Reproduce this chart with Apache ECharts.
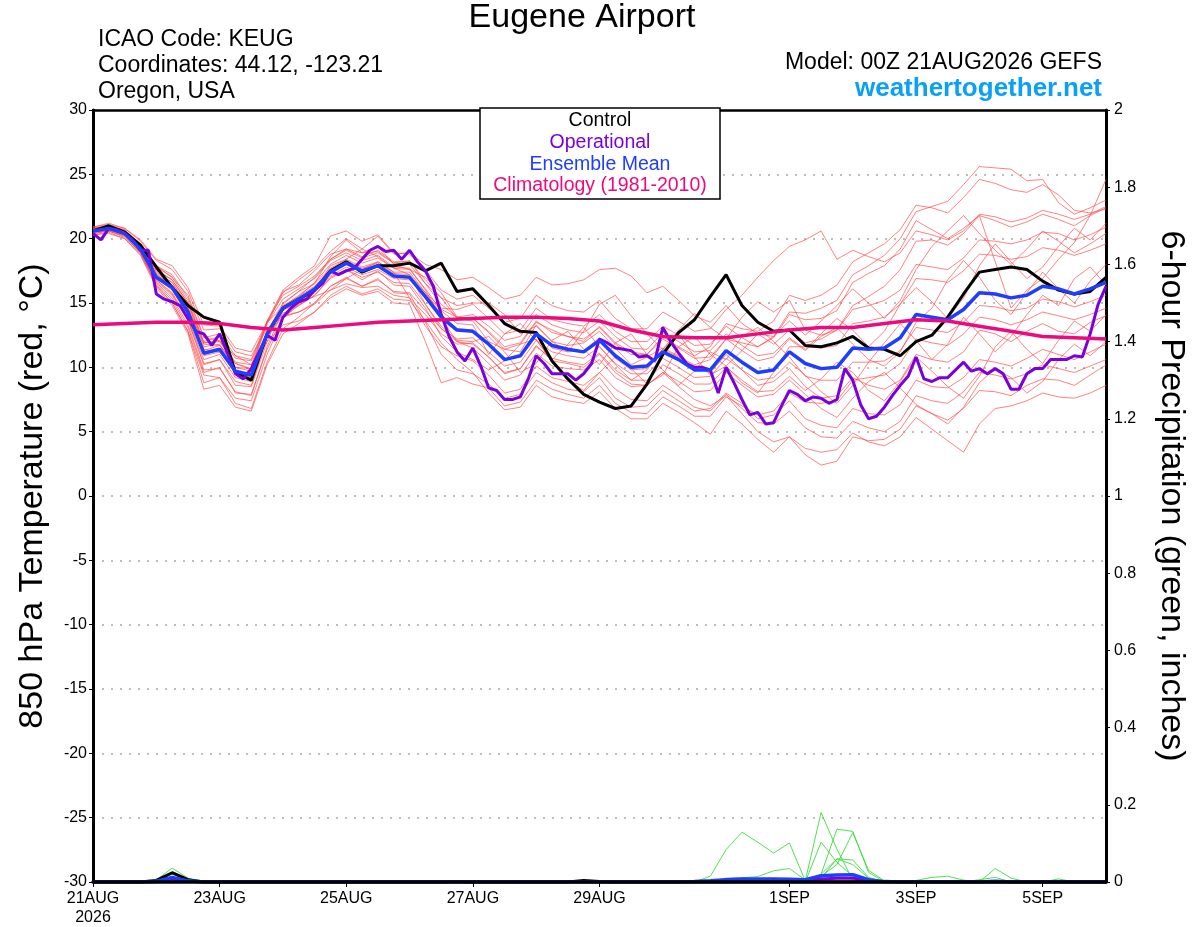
<!DOCTYPE html>
<html>
<head>
<meta charset="utf-8">
<title>Eugene Airport</title>
<script src="https://cdn.jsdelivr.net/npm/echarts@6.0.0/dist/echarts.min.js"></script>
<style>
  html, body { margin: 0; padding: 0; background: #fff; }
  #chart { width: 1200px; height: 927px; }
</style>
</head>
<body>
<div id="chart"></div>
<script>
// hours since 00Z 21AUG2026 where the date labels sit
var dateTickHours = [0, 48, 96, 144, 192, 264, 312, 360];
var dateTickLabels = ['21AUG\n2026', '23AUG', '25AUG', '27AUG', '29AUG', '1SEP', '3SEP', '5SEP'];

// 850 hPa temperature, 6-hourly (65 values) unless noted
var control = [
  20.6, 21.0, 20.5, 19.5, 17.8, 16.2, 14.8, 13.9, 13.5, 9.6,
  9.0, 12.6, 14.6, 15.3, 16.0, 17.5, 18.2, 17.4, 17.9, 17.9,
  18.1, 17.5, 18.1, 15.9, 16.1, 14.8, 13.4, 12.8, 12.7, 10.5,
  9.1, 7.9, 7.3, 6.8, 7.0, 8.7, 11.0, 12.7, 13.7, 15.5,
  17.2, 14.8, 13.5, 12.8, 12.9, 11.7, 11.6, 11.9, 12.4, 11.5,
  11.4, 10.9, 12.0, 12.5, 13.9, 15.7, 17.4, 17.6, 17.8, 17.6,
  16.7, 16.0, 15.7, 15.9, 17.0
];
var ensMean = [
  20.6, 20.8, 20.4, 19.2, 17.0, 16.2, 14.3, 11.1, 11.4, 9.7,
  9.4, 12.6, 14.6, 15.3, 16.1, 17.4, 18.1, 17.5, 17.9, 17.1,
  17.0, 15.5, 13.9, 12.9, 12.8, 11.8, 10.6, 10.9, 12.6, 11.7,
  11.4, 11.2, 12.1, 10.9, 10.0, 10.1, 11.2, 10.6, 9.8, 9.8,
  11.3, 10.4, 9.6, 9.8, 11.2, 10.3, 9.9, 10.0, 11.5, 11.4,
  11.5, 12.3, 14.1, 13.9, 13.7, 14.5, 15.8, 15.7, 15.4, 15.6,
  16.3, 16.1, 15.7, 16.1, 16.6
];
// operational run is 3-hourly (129 values)
var operational = [
  20.4, 19.9, 20.8, 20.7, 20.4, 19.9, 19.1, 19.1, 15.7, 15.3,
  15.1, 14.8, 13.8, 12.8, 12.6, 11.7, 12.6, 11.1, 9.5, 9.1,
  9.9, 11.2, 12.5, 12.1, 13.9, 14.6, 15.1, 15.3, 16.0, 16.5,
  17.5, 17.2, 17.5, 17.7, 18.4, 19.1, 19.4, 19.0, 19.1, 18.4,
  19.1, 18.2, 17.5, 16.3, 14.1, 12.4, 11.2, 10.5, 11.5, 10.1,
  8.4, 8.2, 7.5, 7.5, 7.7, 9.1, 10.9, 10.3, 9.5, 9.5,
  9.5, 9.0, 9.5, 10.3, 12.2, 11.9, 11.5, 11.4, 11.3, 10.8,
  10.9, 10.5, 13.1, 12.0, 11.1, 10.3, 10.0, 10.0, 9.8, 8.0,
  10.0, 8.8, 7.5, 6.3, 6.5, 5.6, 5.7, 7.0, 8.2, 7.9,
  7.4, 7.7, 7.6, 7.2, 7.5, 9.9, 9.0, 7.1, 6.0, 6.2,
  6.9, 7.8, 8.6, 9.3, 10.8, 9.1, 8.9, 9.2, 9.2, 9.8,
  10.4, 9.7, 9.9, 9.5, 9.9, 9.5, 8.3, 8.3, 9.5, 9.9,
  9.9, 10.6, 10.6, 10.6, 10.9, 10.8, 12.6, 14.9, 16.3
];
// climatology is 12-hourly (33 values)
var climatology = [
  13.3, 13.4, 13.5, 13.5, 13.4, 13.1, 12.9, 13.1, 13.3, 13.5,
  13.6, 13.7, 13.8, 13.9, 13.9, 13.8, 13.6, 12.9, 12.4, 12.3,
  12.3, 12.6, 12.9, 13.1, 13.1, 13.4, 13.7, 13.6, 13.2, 12.8,
  12.4, 12.3, 12.2
];

// ensemble members
var mem01 = [20.8,20.9,20.7,19.5,17.9, 17.0,15.6,12.4,12.0,10.9, 10.2,13.5,15.9,16.4,17.5, 18.8,19.2,18.9,19.0,18.1, 18.3,16.5,15.4,13.8,13.6, 12.0,11.4,11.2,13.3,12.0, 11.7,11.9,12.8,11.5,10.2, 10.8,11.5,10.9,9.9,9.6, 11.0,9.8,8.6,8.9,9.9, 8.5,7.6,7.8,9.2,8.6, 8.3,9.0,11.0,10.6,10.4, 11.2,12.9,12.6,12.0,12.8, 13.4,12.8,12.6,13.5,14.0];
var mem02 = [20.4,20.6,20.1,18.9,16.5, 15.2,13.1,9.6,10.0,8.0, 7.9,11.4,13.9,14.8,15.6, 17.0,17.6,16.8,17.5,16.4, 16.3,14.6,12.4,11.2,10.6, 9.8,10.5,11.8,12.2,10.4, 9.0,8.2,9.6,10.8,9.9, 8.7,9.4,11.6,12.4,11.0, 10.1,11.3,12.6,11.8,12.9, 11.9,12.2,12.9,14.8,15.5, 16.3,17.6,19.8,19.9,19.5, 20.4,21.8,21.4,20.9,21.3, 21.9,21.5,21.0,21.8,22.4];
var mem03 = [20.7,21.0,20.6,19.6,17.6, 16.8,15.0,11.9,12.0,10.3, 9.9,13.4,15.8,16.8,17.7, 19.0,20.0,19.2,20.2,18.8, 18.9,18.0,17.6,16.8,17.0, 16.2,15.3,15.6,17.0,16.4, 16.5,16.8,17.6,17.7,17.1, 15.8,16.3,15.2,14.0,13.5, 14.8,13.4,12.6,12.4,13.6, 12.5,13.6,14.8,16.1,15.0, 13.8,15.2,17.6,19.4,20.6, 21.8,20.4,19.1,18.0,19.2, 20.6,19.8,18.9,19.6,20.4];
var mem04 = [20.3,20.5,20.0,18.8,16.4, 15.0,12.8,8.8,9.2,7.2, 6.8,10.4,13.0,13.9,15.0, 16.3,17.0,16.3,16.9,15.8, 15.7,13.5,11.0,9.8,9.5, 8.7,7.6,7.9,9.6,8.8, 8.3,8.1,9.2,7.6,6.9, 7.0,8.2,7.4,6.6,6.8, 8.0,7.2,6.0,6.3,7.4, 6.0,5.5,5.3,6.8,6.4, 6.3,7.1,9.0,8.5,8.4, 9.2,10.6,10.4,10.1,10.7, 11.4,11.0,10.6,11.2,11.8];
var mem05 = [20.6,20.8,20.3,19.3,17.2, 16.4,14.6,11.4,11.2,9.8, 9.2,12.8,15.0,15.9,16.5, 18.6,19.9,18.9,19.4,18.0, 17.6,17.0,15.8,13.9,13.8, 12.7,11.4,11.8,13.5,12.9, 12.4,12.0,13.2,11.9,11.2, 11.0,12.4,11.6,10.9,11.6, 13.4,13.0,12.8,13.6,15.6, 15.2,15.6,16.4,18.2,18.9, 19.6,20.7,22.6,22.4,22.0, 23.2,24.6,24.3,23.8,23.6, 24.2,23.4,22.2,22.0,22.3];
var mem06 = [20.9,21.1,20.8,19.8,18.3, 17.6,15.9,12.9,13.0,11.2, 10.9,13.0,14.0,14.3,14.9, 16.0,16.5,16.2,16.3,15.6, 15.4,14.1,12.6,11.8,11.9, 10.8,9.5,9.9,11.7,10.5, 10.3,10.0,11.0,9.6,8.7, 8.6,9.6,8.5,7.5,7.0, 7.8,6.4,5.0,4.2,4.6, 3.2,2.4,2.7,4.6,4.3, 4.4,5.2,7.0,6.4,5.9, 6.8,8.2,8.1,7.8,8.6, 9.1,9.0,8.6,9.4,10.2];
var mem07 = [20.5,20.7,20.4,19.0,16.7, 15.6,13.6,10.2,10.6,8.6, 8.5,12.0,14.9,15.9,17.0, 18.4,19.2,18.6,19.1,18.2, 18.2,16.8,15.4,14.8,15.0, 15.0,14.1,12.6,13.2,12.0, 11.2,12.8,14.9,15.6,14.0, 12.6,11.4,12.9,14.2,13.1, 12.2,13.9,15.1,14.3,15.2, 12.9,12.5,12.9,14.5,14.8, 15.2,16.0,18.0,17.8,17.6, 18.5,19.9,19.8,19.6,19.9, 20.5,20.4,19.9,20.3,20.9];
var mem08 = [20.6,20.9,20.5,19.4,17.4, 16.6,14.6,11.8,11.7,10.3, 9.8,12.0,13.3,13.6,14.3, 15.4,16.1,15.6,15.9,15.0, 14.9,12.0,8.8,9.2,8.7, 8.4,7.0,7.3,9.0,8.3, 7.9,7.6,8.6,7.2,6.5, 6.4,7.7,7.0,6.2,6.2, 7.7,7.0,6.3,6.6,8.0, 7.3,7.2,7.4,9.0,9.2, 9.4,10.3,12.2,11.9,11.7, 12.6,13.9,13.7,13.3,13.7, 14.3,14.0,13.7,14.1,14.6];
var mem09 = [20.5,20.7,20.3,19.1,16.8, 15.8,13.8,10.6,11.0,9.2, 8.9,12.5,14.7,15.6,16.5, 17.7,18.4,17.8,18.2,17.4, 17.4,15.8,14.1,13.0,12.9, 11.7,10.6,10.8,12.8,11.5, 11.2,11.3,12.3,10.7,9.8, 9.9,11.4,10.8,10.2,10.6, 12.2,11.9,11.6,12.4,14.3, 14.2,14.6,15.2,17.2,17.9, 18.7,20.0,22.1,22.5,22.9, 24.2,25.6,25.5,25.4,24.5, 24.6,22.8,21.9,22.4,23.0];
var mem10 = [20.8,21.0,20.6,19.5,17.8, 17.0,15.2,12.0,12.4,10.7, 10.5,13.4,15.3,16.1,16.9, 18.3,18.9,18.3,18.7,17.8, 17.7,16.0,13.8,12.0,11.5, 10.3,9.0,9.4,11.1,10.1, 9.9,9.8,10.6,9.2,8.5, 8.6,9.6,8.9,8.1,8.2, 9.6,8.6,7.7,7.9,9.0, 7.9,6.8,6.1,7.6,8.9, 9.6,8.4,7.1,6.4,5.6, 6.9,8.8,9.9,9.2,8.0, 8.9,10.6,11.8,10.9,12.0];
var mem11 = [20.4,20.6,20.2,18.9,16.3, 15.0,12.8,9.4,9.2,7.6, 7.4,11.0,13.8,14.9,15.8, 17.1,17.8,17.2,17.6,16.9, 16.8,15.6,14.5,13.9,14.1, 13.2,12.1,12.4,14.1,13.3, 12.9,12.7,13.6,12.4,11.5, 11.4,12.7,12.0,11.2,11.3, 12.6,11.7,10.9,11.1,12.3, 11.4,12.6,13.8,12.9,11.6, 12.8,14.9,16.2,15.1,13.8, 15.4,17.9,19.6,18.2,16.9, 17.8,19.4,20.8,19.9,21.2];
var mem12 = [20.7,20.9,20.5,19.4,17.3, 16.6,14.9,11.6,11.8,10.0, 9.9,13.6,16.0,17.0,17.9, 20.2,20.6,19.8,20.3,18.9, 18.8,17.6,16.0,15.3,15.6, 14.6,13.5,13.8,15.6,14.8, 14.4,14.3,15.2,13.8,13.0, 13.0,14.3,13.6,12.8,13.0, 14.5,15.6,17.0,18.3,19.4, 19.9,20.6,18.4,19.1,18.6, 18.2,18.9,20.6,20.3,19.9, 20.6,21.9,21.7,21.3,21.6, 22.2,21.9,21.5,21.9,22.5];
var mem13 = [20.9,21.2,20.8,19.9,18.4, 17.9,16.2,13.3,13.2,11.5, 11.2,13.5,14.7,15.0,15.5, 16.0,16.9,17.6,18.2,17.4, 15.4,13.2,11.6,10.9,10.5, 9.4,8.0,8.3,10.1,9.2, 8.9,8.6,9.6,8.3,7.5, 7.4,8.6,7.8,6.9,6.6, 7.9,6.8,5.7,5.6,6.6, 5.3,4.6,4.5,5.8,5.3, 5.0,5.8,7.8,7.4,7.2, 8.1,9.6,9.4,9.1,9.5, 10.2,9.9,9.6,10.1,10.6];
var mem14 = [20.5,20.6,20.2,18.9,16.6, 15.4,13.3,9.8,9.9,8.1, 7.8,11.6,14.4,15.5,16.6, 18.0,18.7,18.1,18.5,17.7, 17.6,16.1,14.4,13.4,13.3, 11.0,12.6,13.4,12.1,10.6, 11.8,13.1,11.6,10.2,9.0, 9.8,11.4,12.6,10.8,9.4, 10.1,8.8,8.0,9.6,11.6, 11.6,11.5,11.7,13.4,13.6, 13.9,14.9,16.9,16.8,16.6, 17.5,18.8,18.7,18.4,18.6, 19.3,19.1,18.7,19.1,19.6];
var mem15 = [20.7,20.9,20.5,19.4,17.5, 16.8,15.0,11.9,12.1,10.4, 10.2,12.6,13.9,14.3,15.0, 16.3,16.9,16.3,16.8,15.9, 15.8,14.4,13.0,12.2,12.3, 11.2,10.1,10.4,12.1,11.2, 10.9,10.7,11.6,10.3,9.5, 9.5,10.7,10.0,9.2,9.3, 10.7,9.8,9.0,9.2,10.4, 9.4,8.1,7.2,8.6,10.4, 11.9,13.4,12.1,10.6,11.8, 13.9,12.6,11.2,12.4,14.1, 15.6,14.8,16.9,17.8,16.4];
var mem16 = [20.5,20.7,20.3,19.1,16.8, 15.7,13.7,10.3,10.6,8.9, 8.6,12.3,14.8,15.5,16.3, 17.6,18.3,17.7,18.1,17.3, 17.2,15.8,14.6,14.5,14.9, 13.8,12.6,12.9,14.6,13.7, 13.4,13.2,14.1,12.8,12.0, 12.0,13.2,12.5,11.7,11.8, 13.2,12.3,11.6,12.3,14.1, 13.7,13.8,14.4,16.6,17.3, 17.9,19.2,21.4,20.7,20.0, 20.8,21.8,18.2,14.6,16.0, 16.9,18.4,19.7,21.8,24.6];
var mem17 = [20.6,20.8,20.4,19.3,17.2, 16.4,14.6,11.3,11.7,10.0, 9.7,12.5,14.4,15.1,15.9, 17.9,18.4,19.2,18.6,17.7, 17.2,14.9,13.0,12.0,11.8, 10.8,9.6,9.9,11.6,10.7, 10.4,10.2,11.1,9.8,9.0, 9.0,10.2,9.5,8.7,8.7, 10.0,9.0,8.1,8.2,9.3, 8.2,9.1,10.4,9.6,8.2, 7.4,8.9,10.8,9.7,8.5, 7.6,9.3,11.6,12.8,11.4, 10.3,12.1,13.6,12.8,14.1];
var mem18 = [20.3,20.4,20.0,18.7,16.2, 14.8,12.6,8.3,8.6,6.9, 6.6,10.2,12.6,13.4,14.3, 15.6,16.3,15.7,16.1,15.3, 15.2,13.6,11.9,10.6,9.6, 8.0,6.7,6.9,8.6,7.7, 7.4,7.2,8.1,6.8,6.0, 6.0,7.2,6.5,5.7,4.8, 6.6,5.6,4.4,3.4,4.6, 3.7,3.4,3.6,4.9,4.2, 3.9,4.6,6.1,5.2,4.3, 3.4,5.6,6.8,7.0,7.4, 8.0,7.7,7.6,8.0,8.6];
var mem19 = [20.8,21.0,20.7,19.6,17.9, 17.2,15.4,12.3,12.6,10.9, 10.6,13.6,15.6,16.3,17.1, 18.4,19.1,18.5,18.9,18.1, 18.0,16.5,14.9,13.9,13.8, 12.8,11.6,11.9,13.6,12.7, 12.4,12.2,13.1,11.8,11.0, 11.0,12.2,11.5,10.7,10.8, 12.2,11.3,10.5,10.8,12.2, 11.3,12.4,13.1,11.8,10.6, 10.1,11.2,13.5,14.6,16.8, 18.3,17.0,15.2,14.1,15.8, 17.4,16.1,15.0,16.7,18.0];
var mem20 = [20.6,20.8,20.4,19.2,16.9, 16.0,14.1,10.9,11.2,9.5, 9.2,12.3,14.2,14.8,15.6, 16.9,17.6,17.0,17.4,16.6, 16.5,14.9,13.2,12.1,12.0, 12.4,11.2,9.6,10.3,12.1, 12.8,11.4,10.2,11.9,12.6, 11.0,9.8,8.6,9.7,11.2, 10.6,12.4,13.1,12.0,10.8, 9.3,9.0,9.0,10.4,10.4, 10.5,11.3,13.1,12.9,12.7, 13.5,14.8,14.7,14.4,14.6, 15.3,15.1,14.7,15.1,15.6];
var members = [mem01, mem02, mem03, mem04, mem05, mem06, mem07, mem08, mem09, mem10,
               mem11, mem12, mem13, mem14, mem15, mem16, mem17, mem18, mem19, mem20];

// 6-hour precipitation (inches), 6-hourly
var precipControl = [
  0,0,0,0,0.004,0.024,0.006,0,0,0,0,0,0,
  0,0,0,0,0,0,0,0,0,0,0.001,0,0,
  0,0,0,0,0,0.004,0.001,0,0,0,0,0,0,
  0,0,0,0,0,0,0,0,0,0,0,0,0,
  0,0,0,0,0,0,0,0,0,0,0,0,0
];
var precipMean = [
  0,0,0,0,0.002,0.012,0.003,0,0,0,0,0,0,
  0,0,0,0,0,0,0,0,0,0,0,0,0,
  0,0,0,0,0,0,0,0,0,0,0,0,0.001,
  0.003,0.006,0.008,0.008,0.008,0.007,0.006,0.016,0.018,0.019,0.006,0.001,0,
  0,0,0,0,0,0.002,0,0,0,0,0,0,0
];
var precipOper = [
  0,0,0,0,0,0.008,0.002,0,0,0,0,0,0,
  0,0,0,0,0,0,0,0,0,0,0,0,0,
  0,0,0,0,0,0,0,0,0,0,0,0,0,
  0,0,0.002,0.003,0.003,0.003,0.002,0.008,0.010,0.010,0.003,0,0,
  0,0,0,0,0,0,0,0,0,0,0,0,0
];
var pm01 = [0,0,0,0,0,0,0,0,0,0,0,0,0, 0,0,0,0,0,0,0,0,0,0,0,0,0, 0,0,0,0,0,0,0,0,0,0,0,0,0, 0.015,0.084,0.129,0.103,0.075,0.101,0.003,0,0,0,0,0,0, 0,0,0,0,0,0,0,0,0,0,0,0,0];
var pm02 = [0,0,0,0,0.005,0.036,0.010,0,0,0,0,0,0, 0,0,0,0,0,0,0,0,0,0,0,0,0, 0,0,0,0,0,0,0,0,0,0,0,0,0, 0.002,0.010,0.011,0.014,0.029,0.035,0.005,0,0,0,0,0,0, 0,0,0,0,0,0,0,0,0,0,0,0,0];
var pm03 = [0,0,0,0,0,0,0,0,0,0,0,0,0, 0,0,0,0,0,0,0,0,0,0,0,0,0, 0,0,0,0,0,0,0,0,0,0,0,0,0, 0,0,0,0,0,0,0.003,0.180,0.085,0.005,0,0,0, 0,0,0,0,0,0,0,0,0,0,0,0,0];
var pm04 = [0,0,0,0,0,0,0,0,0,0,0,0,0, 0,0,0,0,0,0,0,0,0,0,0,0,0, 0,0,0,0,0,0,0,0,0,0,0,0,0, 0,0,0,0,0,0,0,0.103,0.051,0.015,0,0,0, 0,0,0,0,0,0,0,0,0,0,0,0,0];
var pm05 = [0,0,0,0,0,0,0,0,0,0,0,0,0, 0,0,0,0,0,0,0,0,0,0,0,0,0, 0,0,0,0,0,0,0,0,0,0,0,0,0, 0,0,0,0,0,0,0,0.020,0.137,0.131,0.025,0,0, 0,0,0,0,0,0,0,0,0,0,0,0,0];
var pm06 = [0,0,0,0,0,0,0,0,0,0,0,0,0, 0,0,0,0,0,0,0,0,0,0,0,0,0, 0,0,0,0,0,0,0,0,0,0,0,0,0, 0,0,0,0,0,0,0,0.010,0.060,0.057,0.012,0,0, 0,0,0,0,0,0,0,0,0,0,0,0,0];
var pm07 = [0,0,0,0,0.002,0.020,0.004,0,0,0,0,0,0, 0,0,0,0,0,0,0,0,0,0,0,0,0, 0,0,0,0,0,0,0,0,0,0,0,0,0, 0,0,0,0,0,0,0,0.015,0.045,0.128,0.030,0.003,0, 0,0,0,0,0,0,0,0,0,0,0,0,0];
var pm08 = [0,0,0,0,0,0,0,0,0,0,0,0,0, 0,0,0,0,0,0,0,0,0,0,0,0,0, 0,0,0,0,0,0,0,0,0,0,0,0,0, 0,0,0,0,0,0,0,0.020,0.060,0.045,0.010,0,0, 0,0,0,0,0,0.035,0.010,0,0,0,0,0,0];
var pm09 = [0,0,0,0,0,0.015,0.003,0,0,0,0,0,0, 0,0,0,0,0,0,0,0,0,0,0,0,0, 0,0,0,0,0,0,0,0,0,0,0,0,0, 0,0,0,0,0,0,0,0,0,0,0,0,0, 0.004,0.012,0.015,0.005,0,0,0,0,0,0.008,0,0,0];
var pm10 = [0,0,0,0,0,0,0,0,0,0,0,0,0, 0,0,0,0,0,0,0,0,0,0,0,0,0, 0.002,0.003,0,0,0,0,0,0,0,0,0,0,0, 0,0,0,0,0,0,0,0,0,0,0,0.004,0.003, 0,0,0,0,0.006,0.012,0,0,0,0,0,0,0];
var precipMembers = [pm01, pm02, pm03, pm04, pm05, pm06, pm07, pm08, pm09, pm10];

function toPairs(arr, stepHours) {
  return arr.map(function (v, i) { return [i * stepHours, v]; });
}

var FONT = 'Liberation Sans, Arial, sans-serif';
var series = [];

members.forEach(function (m, k) {
  series.push({
    name: 'member' + (k + 1), type: 'line', yAxisIndex: 0,
    data: toPairs(m, 6), symbol: 'none', silent: true, z: 1,
    lineStyle: { color: '#ff4545', width: 0.8, opacity: 0.85 }
  });
});
precipMembers.forEach(function (m, k) {
  series.push({
    name: 'precipMember' + (k + 1), type: 'line', yAxisIndex: 1,
    data: toPairs(m, 6), symbol: 'none', silent: true, z: 2,
    lineStyle: { color: '#3ddc3d', width: 0.9 }
  });
});
series.push(
  { name: 'Control', type: 'line', data: toPairs(control, 6), symbol: 'none', z: 3,
    lineStyle: { color: '#000', width: 3 } },
  { name: 'Operational', type: 'line', data: toPairs(operational, 3), symbol: 'none', z: 4,
    lineStyle: { color: '#7a00dc', width: 3 } },
  { name: 'Ensemble Mean', type: 'line', data: toPairs(ensMean, 6), symbol: 'none', z: 5,
    lineStyle: { color: '#1f3dff', width: 3.5 } },
  { name: 'Climatology', type: 'line', data: toPairs(climatology, 12), symbol: 'none', z: 6,
    lineStyle: { color: '#ec0a7e', width: 3.5 } },
  { name: 'precipControl', type: 'line', yAxisIndex: 1, data: toPairs(precipControl, 6), symbol: 'none', z: 3,
    lineStyle: { color: '#000', width: 3 } },
  { name: 'precipOper', type: 'line', yAxisIndex: 1, data: toPairs(precipOper, 6), symbol: 'none', z: 4,
    lineStyle: { color: '#7a00dc', width: 3 } },
  { name: 'precipMean', type: 'line', yAxisIndex: 1, data: toPairs(precipMean, 6), symbol: 'none', z: 5,
    lineStyle: { color: '#1f3dff', width: 3.5 } }
);

function txt(x, y, text, size, color, align, weight) {
  return {
    type: 'text', x: x, y: y, z: 100,
    style: {
      text: text, fill: color || '#000',
      font: (weight || 'normal') + ' ' + size + 'px ' + FONT,
      textAlign: align || 'left', textVerticalAlign: 'middle',
      align: align || 'left', verticalAlign: 'middle'
    }
  };
}

var legendItems = [
  ['Control', '#000'],
  ['Operational', '#7a00dc'],
  ['Ensemble Mean', '#1f3dff'],
  ['Climatology (1981-2010)', '#ec0a7e']
];

var graphics = [
  txt(582, 18, 'Eugene Airport', 34, '#000', 'center'),
  txt(98, 40, 'ICAO Code: KEUG', 23),
  txt(98, 66, 'Coordinates: 44.12, -123.21', 23),
  txt(98, 92, 'Oregon, USA', 23),
  txt(1102, 63, 'Model: 00Z 21AUG2026 GEFS', 23, '#000', 'right'),
  txt(1102, 89, 'weathertogether.net', 26, '#0aa0f5', 'right', 'bold'),
  {
    type: 'rect', z: 99,
    shape: { x: 480, y: 108, width: 240, height: 91 },
    style: { fill: '#fff', stroke: '#000', lineWidth: 1.5 }
  }
];
legendItems.forEach(function (it, i) {
  graphics.push(txt(600, 121 + i * 21.7, it[0], 19.5, it[1], 'center'));
});
var leftTitle = txt(33, 496, '850 hPa Temperature (red, \u00B0C)', 34, '#000', 'center');
leftTitle.rotation = Math.PI / 2;
var rightTitle = txt(1171, 496, '6-hour Precipitation (green, inches)', 34, '#000', 'center');
rightTitle.rotation = -Math.PI / 2;
graphics.push(leftTitle, rightTitle);

var chart = echarts.init(document.getElementById('chart'));
chart.setOption({
  animation: false,
  backgroundColor: '#fff',
  textStyle: { fontFamily: FONT },
  grid: { left: 93, right: 94, top: 110, bottom: 44 },
  xAxis: [
    {
      type: 'value', min: 0, max: 384, z: 10,
      axisLine: { show: true, onZero: false, lineStyle: { color: '#000', width: 3.5 } },
      axisTick: { show: true, customValues: dateTickHours, length: 5, lineStyle: { color: '#000', width: 1 } },
      axisLabel: {
        customValues: dateTickHours, fontSize: 16, color: '#000', margin: 7, lineHeight: 19,
        formatter: function (v) {
          var k = dateTickHours.indexOf(Math.round(v));
          return k >= 0 ? dateTickLabels[k] : '';
        }
      },
      splitLine: { show: false }
    },
    {
      // plain top frame line
      type: 'value', position: 'top', min: 0, max: 384,
      axisLine: { show: true, onZero: false, lineStyle: { color: '#000', width: 2.5 } },
      axisTick: { show: false }, axisLabel: { show: false }, splitLine: { show: false }
    }
  ],
  yAxis: [
    {
      type: 'value', min: -30, max: 30, interval: 5,
      axisLine: { show: true, onZero: false, lineStyle: { color: '#000', width: 3 } },
      axisTick: { show: true, length: 4, lineStyle: { color: '#000', width: 1 } },
      axisLabel: { fontSize: 16, color: '#000', margin: 6 },
      splitLine: { show: true, showMinLine: false, showMaxLine: false,
        lineStyle: { type: [2, 7], color: '#a8a8a8', width: 1.5 } }
    },
    {
      type: 'value', position: 'right', min: 0, max: 2, interval: 0.2,
      axisLine: { show: true, onZero: false, lineStyle: { color: '#000', width: 3 } },
      axisTick: { show: true, length: 4, lineStyle: { color: '#000', width: 1 } },
      axisLabel: {
        fontSize: 16, color: '#000', margin: 8,
        formatter: function (v) { return String(Math.round(v * 10) / 10); }
      },
      splitLine: { show: false }
    }
  ],
  graphic: graphics,
  series: series
});
</script>
</body>
</html>
